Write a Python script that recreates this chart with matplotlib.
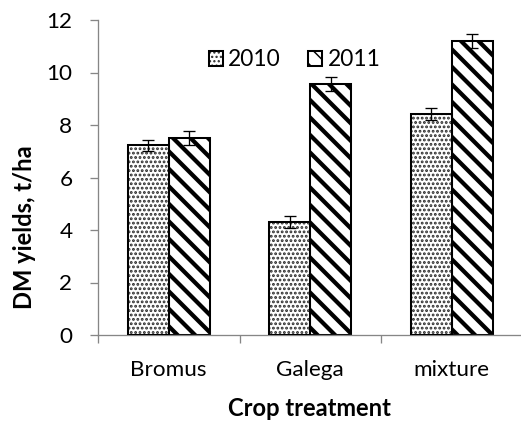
import numpy as np
import matplotlib
matplotlib.use("Agg")
import matplotlib.pyplot as plt
from matplotlib.legend_handler import HandlerTuple

# Dry matter yields by crop treatment and year
categories = ["Bromus", "Galega", "mixture"]
years = ["2010", "2011"]
yield_2010 = [7.22, 4.30, 8.42]
yield_2011 = [7.50, 9.55, 11.21]
err_2010 = [0.22, 0.23, 0.22]
err_2011 = [0.27, 0.27, 0.27]
yticks = [0, 2, 4, 6, 8, 10, 12]

DPI = 105
plt.rcParams["font.family"] = ["Lato", "DejaVu Sans"]

fig = plt.figure(figsize=(521 / DPI, 421 / DPI), dpi=DPI)
ax = fig.add_axes([98 / 521, 86 / 421, 424.5 / 521, 315 / 421])

centers = np.arange(len(categories)) + 0.5
width = 0.29
axis_grey = "#868686"
tick_fs = 15.4

# 2010: dark dot fill, then black outline on top
dots = ax.bar(centers - width / 2, yield_2010, width, color="white",
              edgecolor="#2a2a2a", linewidth=0, hatch="....", zorder=2)
out10 = ax.bar(centers - width / 2, yield_2010, width, fill=False,
               edgecolor="black", linewidth=1.4, zorder=3)
# 2011: thick black diagonal stripes
stripes = ax.bar(centers + width / 2, yield_2011, width, color="white",
                 edgecolor="black", linewidth=1.4, hatch="\\\\", zorder=2)

for p in dots:
    if hasattr(p, "set_hatch_linewidth"):
        p.set_hatch_linewidth(1.3)
for p in stripes:
    if hasattr(p, "set_hatch_linewidth"):
        p.set_hatch_linewidth(2.9)

ax.errorbar(centers - width / 2, yield_2010, yerr=err_2010, fmt="none",
            ecolor="black", elinewidth=0.9, capsize=4, capthick=0.9, zorder=4)
ax.errorbar(centers + width / 2, yield_2011, yerr=err_2011, fmt="none",
            ecolor="black", elinewidth=0.9, capsize=4, capthick=0.9, zorder=4)

ax.set_xlim(0, len(categories))
ax.set_ylim(0, 12)
ax.set_yticks(yticks)
ax.set_yticklabels([str(v) for v in yticks], fontsize=tick_fs)
ax.set_xticks(np.arange(len(categories) + 1))
ax.set_xticklabels([])
ax.set_xticks(centers, minor=True)
ax.set_xticklabels(categories, minor=True, fontsize=tick_fs)
ax.tick_params(axis="x", which="major", direction="out", length=5.5,
               color=axis_grey, width=0.9)
ax.tick_params(axis="x", which="minor", length=0, pad=17)
ax.tick_params(axis="y", direction="out", length=5.5, color=axis_grey,
               width=0.9, pad=12)

for side in ("top", "right"):
    ax.spines[side].set_visible(False)
for side in ("left", "bottom"):
    ax.spines[side].set_color(axis_grey)
    ax.spines[side].set_linewidth(0.9)

fig.text(309 / 521, 1 - 408 / 421, "Crop treatment", ha="center",
         va="center", fontsize=16.3, fontweight="bold")
fig.text(25 / 521, 1 - 227 / 421, "DM yields, t/ha", ha="center",
         va="center", rotation=90, fontsize=16.3, fontweight="bold")

leg = ax.legend([(dots[0], out10[0]), stripes[0]], years, ncol=2,
                handler_map={tuple: HandlerTuple(ndivide=1, pad=0)},
                loc="center left", bbox_to_anchor=(209 / 521, 1 - 60 / 421),
                bbox_transform=fig.transFigure, frameon=False, fontsize=15.6,
                borderpad=0, borderaxespad=0, handlelength=0.6,
                handleheight=0.6, handletextpad=0.25, columnspacing=1.2)

fig.savefig("out.png", dpi=DPI)
